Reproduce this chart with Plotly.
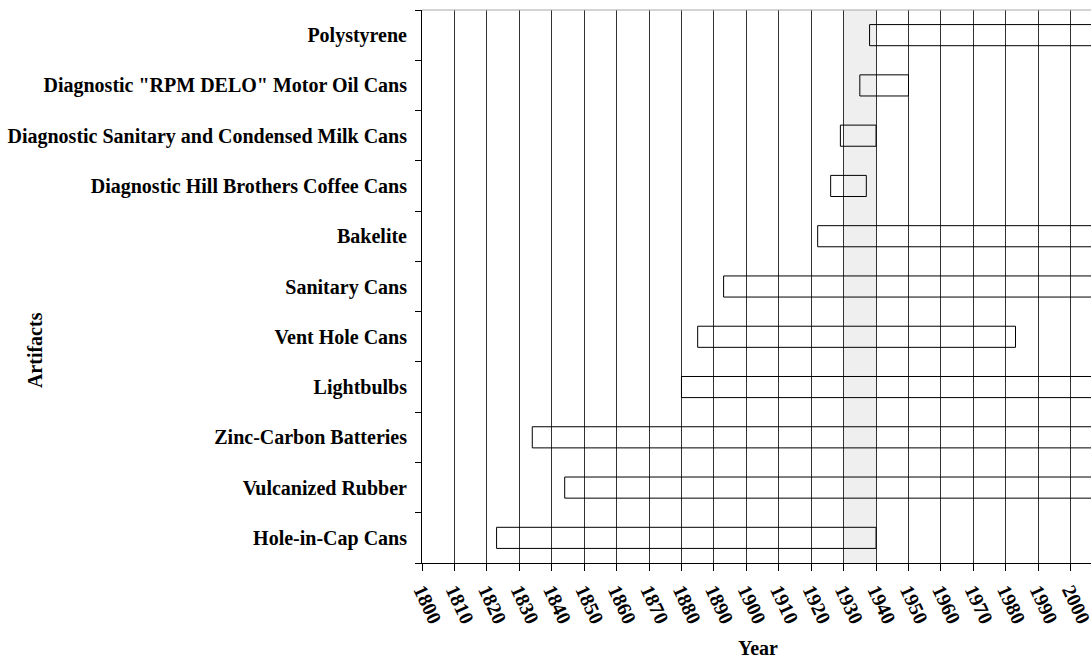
import plotly.graph_objects as go

artifacts = [
    "Hole-in-Cap Cans",
    "Vulcanized Rubber",
    "Zinc-Carbon Batteries",
    "Lightbulbs",
    "Vent Hole Cans",
    "Sanitary Cans",
    "Bakelite",
    "Diagnostic Hill Brothers Coffee Cans",
    "Diagnostic Sanitary and Condensed Milk Cans",
    "Diagnostic \"RPM DELO\" Motor Oil Cans",
    "Polystyrene",
]
start_year = [1823, 1844, 1834, 1880, 1885, 1893, 1922, 1926, 1929, 1935, 1938]
end_year = [1940, 2020, 2020, 2020, 1983, 2020, 2020, 1937, 1940, 1950, 2020]
tick_years = [1800, 1810, 1820, 1830, 1840, 1850, 1860, 1870, 1880, 1890, 1900,
              1910, 1920, 1930, 1940, 1950, 1960, 1970, 1980, 1990, 2000]
band_start, band_end = 1930, 1940
x_min, x_max = 1800, 2018.3

FONT = "Liberation Serif, Times New Roman, serif"

fig = go.Figure()
fig.add_trace(go.Bar(
    y=artifacts,
    x=[e - s for s, e in zip(start_year, end_year)],
    base=start_year,
    orientation="h",
    width=0.42,
    marker=dict(color="rgba(0,0,0,0)", line=dict(color="black", width=1)),
    hoverinfo="skip",
))

fig.add_shape(type="rect", xref="x", yref="paper", x0=band_start, x1=band_end, y0=0, y1=1,
              fillcolor="#efefef", line=dict(width=0), layer="below")
fig.add_shape(type="line", xref="paper", yref="paper", x0=0, x1=1, y0=1, y1=1,
              line=dict(color="#a8a8a8", width=1))

fig.update_layout(
    width=1130, height=658,
    margin=dict(l=422, r=0, t=10, b=95),
    plot_bgcolor="white", paper_bgcolor="white",
    showlegend=False,
    font=dict(family=FONT, size=20, color="black", weight="bold"),
    xaxis=dict(
        range=[x_min, x_max], tickmode="array", tickvals=tick_years,
        ticktext=[str(y) for y in tick_years],
        showgrid=True, gridcolor="#333333", gridwidth=1,
        ticks="outside", ticklen=7, tickcolor="black",
        showline=True, linecolor="black", linewidth=1,
        tickangle=65, zeroline=False,
        tickfont=dict(family=FONT, size=20, weight="bold"),
    ),
    yaxis=dict(
        type="category", categoryorder="array", categoryarray=artifacts,
        range=[-0.5, len(artifacts) - 0.5],
        tickson="boundaries", ticks="outside", ticklen=6, tickcolor="black",
        showgrid=False, showline=True, linecolor="black", linewidth=1,
        ticklabelstandoff=10,
        tickfont=dict(family=FONT, size=20, weight="bold"),
    ),
    annotations=[
        dict(text="Year", xref="paper", yref="paper",
             x=(758 - 422) / (1130 - 422), y=-0.1537,
             xanchor="center", yanchor="middle", showarrow=False,
             font=dict(family=FONT, size=20, weight="bold")),
        dict(text="Artifacts", xref="paper", yref="paper", x=(35 - 422) / (1130 - 422), y=0.385,
             xanchor="center", yanchor="middle", textangle=-90, showarrow=False,
             font=dict(family=FONT, size=20, weight="bold")),
    ],
)

fig.write_html(
    "out.html",
    config={"displayModeBar": False},
    post_script="document.body.style.margin='0';document.body.style.overflow='hidden';",
)
